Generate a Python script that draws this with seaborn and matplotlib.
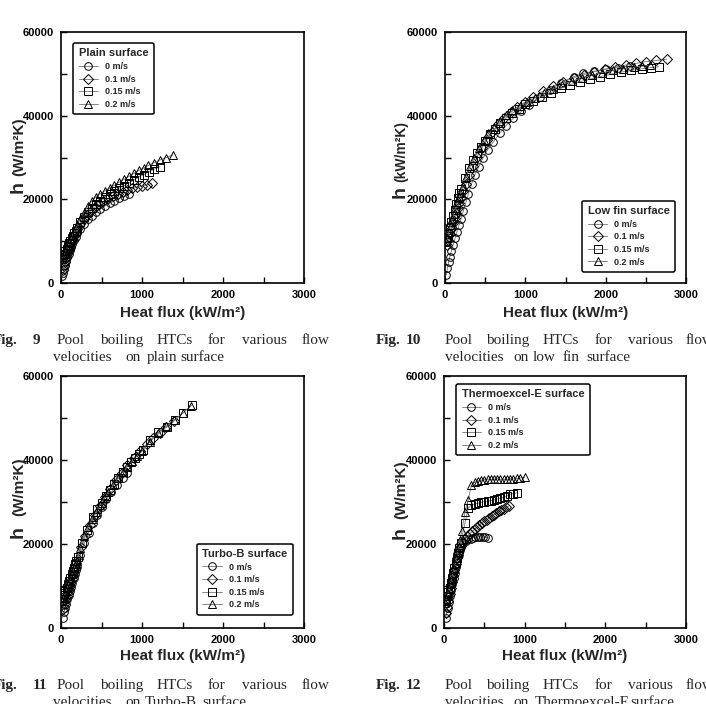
import numpy as np
import pandas as pd
import matplotlib
matplotlib.use("Agg")
import matplotlib.pyplot as plt
import seaborn as sns
from matplotlib.lines import Line2D

# ---------------- data ----------------
velocities = ["0 m/s", "0.1 m/s", "0.15 m/s", "0.2 m/s"]

# Plain surface
plain_q0 = [15, 25, 35, 50, 65, 80, 95, 110, 125, 140, 160, 180, 200, 240, 280, 330, 380, 430, 480, 540, 600, 660, 720, 780, 840]
plain_h0 = [1600, 2400, 3300, 4300, 5300, 6200, 7000, 7800, 8600, 9400, 10300, 11100, 11900, 13000, 14100, 15200, 16100, 16900, 17600, 18400, 19100, 19700, 20300, 20800, 21300]
plain_q1 = [20, 35, 50, 65, 80, 95, 110, 125, 140, 160, 180, 200, 240, 280, 320, 370, 420, 470, 520, 580, 640, 700, 760, 820, 880, 940, 1000, 1060, 1120]
plain_h1 = [3000, 4000, 5000, 6000, 7000, 7900, 8700, 9500, 10300, 11200, 12000, 12800, 14000, 15200, 16200, 17200, 18100, 18800, 19500, 20200, 20800, 21300, 21800, 22200, 22600, 22900, 23200, 23500, 23800]
plain_q2 = [10, 25, 40, 55, 70, 85, 100, 115, 130, 145, 160, 180, 200, 240, 280, 330, 380, 430, 480, 540, 600, 660, 720, 780, 840, 900, 960, 1020, 1090, 1150, 1220]
plain_h2 = [6300, 6600, 7000, 7600, 8200, 8900, 9500, 10100, 10700, 11300, 11900, 12500, 13100, 14500, 15700, 16900, 17900, 18800, 19600, 20500, 21300, 22000, 22700, 23300, 23900, 24600, 25300, 25900, 26600, 27200, 27800]
plain_q3 = [10, 25, 40, 55, 70, 85, 100, 120, 140, 160, 180, 200, 240, 280, 330, 380, 430, 480, 540, 600, 660, 720, 780, 840, 900, 960, 1020, 1080, 1150, 1220, 1300, 1380]
plain_h3 = [5800, 6300, 6900, 7600, 8300, 9000, 9700, 10600, 11500, 12300, 13100, 13900, 15400, 16800, 18300, 19600, 20600, 21300, 22000, 22700, 23400, 24100, 24800, 25500, 26200, 26900, 27500, 28100, 28800, 29400, 30000, 30600]

# Low fin surface
lowfin_q0 = [15, 30, 45, 60, 80, 100, 125, 150, 175, 200, 230, 260, 290, 330, 370, 420, 470, 530, 600, 680, 760, 850, 950, 1050, 1180, 1310, 1450, 1600, 1720, 1850, 2000, 2150, 2300]
lowfin_h0 = [1900, 3500, 5000, 6300, 7700, 9000, 10700, 12300, 13800, 15300, 17300, 19300, 21300, 23600, 25800, 27800, 29800, 31800, 33700, 35800, 37600, 39400, 41000, 42600, 44500, 46200, 47900, 49300, 50100, 50600, 51100, 51500, 51900]
lowfin_q1 = [20, 40, 60, 80, 100, 120, 140, 160, 180, 200, 230, 260, 300, 350, 400, 460, 520, 590, 660, 740, 820, 900, 1000, 1100, 1220, 1340, 1470, 1600, 1730, 1860, 1990, 2120, 2250, 2380, 2500, 2630, 2760]
lowfin_h1 = [9000, 10300, 11700, 13000, 14300, 15600, 16800, 18000, 19200, 20300, 22000, 23600, 25700, 28000, 30200, 32300, 34200, 36200, 37900, 39500, 40800, 42000, 43300, 44500, 45800, 47000, 48100, 49000, 49800, 50500, 51100, 51600, 52100, 52500, 52900, 53200, 53500]
lowfin_q2 = [10, 25, 40, 60, 80, 100, 120, 140, 160, 180, 200, 250, 300, 350, 400, 450, 500, 560, 620, 690, 760, 840, 920, 1000, 1100, 1210, 1320, 1440, 1560, 1680, 1800, 1930, 2060, 2190, 2320, 2450, 2560, 2660]
lowfin_h2 = [10000, 10800, 11800, 13200, 14700, 16100, 17500, 18900, 20200, 21400, 22500, 25200, 27500, 29300, 31000, 32600, 34000, 35500, 36800, 38200, 39400, 40600, 41700, 42700, 43500, 44500, 45500, 46500, 47400, 48100, 48700, 49300, 49900, 50400, 50800, 51200, 51500, 51700]
lowfin_q3 = [15, 30, 50, 70, 90, 110, 130, 150, 170, 190, 220, 260, 310, 360, 420, 480, 540, 610, 680, 760, 840, 930, 1020, 1120, 1230, 1340, 1460, 1580, 1700, 1830, 1960, 2090, 2220, 2350, 2450, 2550]
lowfin_h3 = [9800, 10800, 12300, 13800, 15200, 16600, 18000, 19300, 20500, 21600, 23300, 25400, 27900, 30000, 32200, 34100, 35800, 37400, 38800, 40100, 41300, 42400, 43300, 44200, 45300, 46400, 47400, 48300, 49000, 49700, 50300, 50800, 51200, 51600, 51800, 52000]

# Turbo-B surface
turbo_q0 = [20, 35, 50, 65, 80, 95, 110, 125, 140, 155, 170, 185, 200, 240, 290, 340, 390, 440, 500, 560, 620, 690, 760, 820]
turbo_h0 = [2500, 3700, 4800, 5800, 6800, 7800, 8800, 9800, 10800, 11800, 12800, 13700, 14600, 17500, 20300, 22700, 24900, 26800, 28800, 30600, 32300, 34100, 35800, 37000]
turbo_q1 = [25, 40, 55, 70, 85, 100, 115, 130, 145, 160, 175, 190, 205, 250, 300, 360, 420, 480, 540, 610, 680, 750, 820, 900, 980, 1060, 1140, 1220, 1300, 1390]
turbo_h1 = [4500, 5600, 6700, 7700, 8700, 9700, 10700, 11700, 12700, 13700, 14600, 15500, 16400, 19200, 21800, 24500, 27000, 29100, 31100, 33200, 35200, 37000, 38700, 40500, 42200, 43800, 45200, 46500, 47800, 49200]
turbo_q2 = [10, 25, 40, 55, 70, 85, 100, 115, 130, 145, 160, 175, 190, 210, 260, 320, 395, 450, 505, 555, 605, 655, 705, 760, 815, 865, 915, 965, 1015, 1100, 1200, 1310, 1410, 1505, 1615]
turbo_h2 = [7500, 7800, 8300, 8900, 9600, 10400, 11200, 12000, 12800, 13600, 14400, 15200, 16000, 16900, 20200, 23300, 26500, 28300, 29800, 31400, 32900, 34300, 35700, 37100, 38400, 39500, 40500, 41500, 42400, 44700, 46700, 47900, 49500, 51200, 53100]
turbo_q3 = [15, 30, 45, 60, 75, 90, 105, 120, 135, 150, 165, 180, 195, 230, 280, 330, 380, 430, 480, 530, 580, 640, 700, 760, 820, 880, 940, 1000, 1100, 1200, 1300, 1400, 1500, 1600]
turbo_h3 = [6500, 7200, 8000, 8800, 9600, 10400, 11200, 12000, 12800, 13600, 14400, 15200, 16000, 19000, 21800, 24000, 25900, 27700, 29300, 30900, 32300, 34000, 35600, 37100, 38500, 39800, 41000, 42100, 44400, 46500, 48100, 49600, 51100, 52900]

# Thermoexcel-E surface
thermo_q0 = [20, 30, 45, 60, 75, 90, 105, 120, 135, 150, 165, 180, 195, 210, 240, 270, 300, 330, 360, 390, 420, 450, 480, 510, 550]
thermo_h0 = [2500, 3500, 4800, 6200, 7600, 9000, 10400, 11800, 13200, 14600, 16000, 17300, 18500, 19400, 20300, 20800, 21100, 21300, 21500, 21600, 21700, 21700, 21700, 21600, 21500]
thermo_q1 = [25, 40, 55, 70, 85, 100, 115, 130, 145, 160, 175, 190, 205, 230, 260, 290, 320, 350, 380, 410, 440, 470, 500, 530, 560, 590, 620, 650, 680, 710, 740, 770, 800]
thermo_h1 = [3500, 5000, 6500, 8000, 9500, 11000, 12500, 13900, 15300, 16600, 17800, 18800, 19500, 20400, 21200, 21900, 22500, 23000, 23500, 24000, 24500, 25000, 25400, 25800, 26200, 26600, 27000, 27400, 27800, 28100, 28400, 28700, 29000]
thermo_q2 = [10, 25, 40, 55, 70, 85, 100, 115, 130, 145, 160, 175, 190, 205, 260, 300, 340, 380, 420, 460, 500, 540, 580, 620, 660, 700, 740, 780, 820, 860, 900]
thermo_h2 = [6500, 6900, 7600, 8500, 9500, 10600, 11800, 13000, 14200, 15400, 16600, 17800, 19000, 20300, 25000, 28500, 29300, 29500, 29700, 29900, 30100, 30200, 30300, 30500, 30700, 30900, 31200, 31500, 31800, 32000, 32200]
thermo_q3 = [15, 30, 45, 60, 75, 90, 105, 120, 135, 150, 165, 180, 195, 220, 260, 300, 340, 380, 420, 460, 500, 540, 580, 620, 660, 700, 740, 780, 820, 860, 900, 940, 1000]
thermo_h3 = [6000, 7000, 8100, 9200, 10400, 11600, 12800, 14000, 15300, 16600, 18000, 19400, 20900, 23000, 27600, 30500, 34000, 34700, 35000, 35200, 35300, 35400, 35400, 35400, 35500, 35400, 35400, 35400, 35500, 35500, 35600, 35700, 35900]

x_ticks = [0, 1000, 2000, 3000]
y_ticks = [0, 20000, 40000, 60000]

# ---------------- style ----------------
sns.set_style("ticks")
plt.rcParams["font.family"] = ["Liberation Sans", "DejaVu Sans"]

W, H, DPI = 706, 704, 100
fig = plt.figure(figsize=(W / DPI, H / DPI), dpi=DPI)

markers = {"0 m/s": "o", "0.1 m/s": "D", "0.15 m/s": "s", "0.2 m/s": "^"}
LINE_C = "0.45"


def add_ax(l, t, r, b):
    return fig.add_axes([l / W, 1 - b / H, (r - l) / W, (b - t) / H])


def fig_text(x, y, s, **kw):
    return fig.text(x / W, 1 - y / H, s, **kw)


def make_df(qs, hs):
    frames = []
    for v, q, h in zip(velocities, qs, hs):
        frames.append(pd.DataFrame({"q": q, "h": h, "v": v}))
    return pd.concat(frames, ignore_index=True)


panels = [
    dict(rect=(61, 32, 304, 283),
         df=make_df([plain_q0, plain_q1, plain_q2, plain_q3], [plain_h0, plain_h1, plain_h2, plain_h3]),
         title="Plain surface", loc="upper left", anchor=(0.05, 0.956),
         yl_x=23, h_y=187, unit="(W/m²K)", unit_y=147, unit_fs=11,
         xl_y=317,
         cap_num="9", cap_y=344,
         cap2=[("velocities", 53), ("on", 125), ("plain", 147), ("surface", 180)]),
    dict(rect=(445, 32, 686, 283),
         df=make_df([lowfin_q0, lowfin_q1, lowfin_q2, lowfin_q3], [lowfin_h0, lowfin_h1, lowfin_h2, lowfin_h3]),
         title="Low fin surface", loc="lower right", anchor=(0.954, 0.044),
         yl_x=405, h_y=192, unit="(kW/m²K)", unit_y=151, unit_fs=10,
         xl_y=317,
         cap_num="10", cap_y=344,
         cap2=[("velocities", 445), ("on", 513), ("low", 533), ("fin", 563), ("surface", 586)]),
    dict(rect=(61, 376, 304, 628),
         df=make_df([turbo_q0, turbo_q1, turbo_q2, turbo_q3], [turbo_h0, turbo_h1, turbo_h2, turbo_h3]),
         title="Turbo-B surface", loc="lower right", anchor=(0.955, 0.052),
         yl_x=23, h_y=532, unit="(W/m²K)", unit_y=487, unit_fs=11,
         xl_y=660,
         cap_num="11", cap_y=689,
         cap2=[("velocities", 53), ("on", 125), ("Turbo-B", 145), ("surface", 202)]),
    dict(rect=(444, 376, 686, 628),
         df=make_df([thermo_q0, thermo_q1, thermo_q2, thermo_q3], [thermo_h0, thermo_h1, thermo_h2, thermo_h3]),
         title="Thermoexcel-E surface", loc="upper left", anchor=(0.05, 0.968),
         yl_x=405, h_y=533, unit="(W/m²K)", unit_y=490, unit_fs=11,
         xl_y=660,
         cap_num="12", cap_y=689,
         cap2=[("velocities", 445), ("on", 513), ("Thermoexcel-E", 535), ("surface", 630)]),
]

cap_left = [("Pool", 57), ("boiling", 100), ("HTCs", 157), ("for", 208), ("various", 242), ("flow", 302)]
cap_right = [("Pool", 445), ("boiling", 486), ("HTCs", 543), ("for", 595), ("various", 628), ("flow", 686)]
SERIF = ["Liberation Serif", "DejaVu Serif"]
CAP_FS = 11

for p in panels:
    ax = add_ax(*p["rect"])
    sns.lineplot(data=p["df"], x="q", y="h", style="v", style_order=velocities,
                 markers=markers, dashes=False, estimator=None, sort=False,
                 color=LINE_C, lw=0.6, markersize=5.5, markerfacecolor="none",
                 markeredgecolor="black", markeredgewidth=0.7, legend=False, ax=ax)
    ax.set_xlim(0, 3000)
    ax.set_ylim(0, 60000)
    ax.set_xticks(x_ticks)
    ax.set_yticks(y_ticks)
    ax.set_xticks(np.arange(0, 3001, 500), minor=True)
    ax.set_yticks(np.arange(0, 60001, 10000), minor=True)
    ax.set_xticklabels([str(t) for t in x_ticks])
    ax.set_yticklabels([str(t) for t in y_ticks])
    ax.tick_params(which="both", direction="in", length=4, width=1, top=False, right=False,
                   labelsize=8, pad=5, colors="black")
    for lab in ax.get_xticklabels() + ax.get_yticklabels():
        lab.set_fontweight("bold")
    for s in ax.spines.values():
        s.set_visible(True)
        s.set_linewidth(1.2)
        s.set_color("black")
    ax.set_xlabel("")
    ax.set_ylabel("")

    # x label
    l, t, r, b = p["rect"]
    fig_text((l + r) / 2, p["xl_y"], "Heat flux (kW/m²)", ha="center", va="baseline",
             fontsize=11, weight="bold")
    # y label: big "h" + unit
    fig_text(p["yl_x"], p["h_y"], "h", rotation=90, rotation_mode="anchor",
             ha="center", va="baseline", fontsize=14, weight="bold")
    fig_text(p["yl_x"], p["unit_y"], p["unit"], rotation=90, rotation_mode="anchor",
             ha="center", va="baseline", fontsize=p["unit_fs"], weight="bold")

    # legend
    handles = [Line2D([], [], color=LINE_C, lw=0.6, marker=markers[v], markersize=5.5,
                      markerfacecolor="none", markeredgecolor="black", markeredgewidth=0.7)
               for v in velocities]
    leg = ax.legend(handles, velocities, title=p["title"], loc=p["loc"],
                    bbox_to_anchor=p["anchor"], frameon=True, fancybox=True,
                    edgecolor="black", framealpha=1,
                    prop={"weight": "bold", "size": 6.5},
                    title_fontproperties={"weight": "bold", "size": 8},
                    alignment="left", handlelength=2.2, handletextpad=0.7,
                    labelspacing=0.4, borderpad=0.6, borderaxespad=0)
    leg.get_frame().set_linewidth(1.1)

    # caption
    if l < 300:
        fig_text(18, p["cap_y"], "Fig.", ha="right", va="baseline", family=SERIF,
                 fontsize=CAP_FS, weight="bold")
        fig_text(33, p["cap_y"], p["cap_num"], ha="left", va="baseline", family=SERIF,
                 fontsize=CAP_FS, weight="bold")
        words = cap_left
    else:
        fig_text(376, p["cap_y"], "Fig.", ha="left", va="baseline", family=SERIF,
                 fontsize=CAP_FS, weight="bold")
        fig_text(406, p["cap_y"], p["cap_num"], ha="left", va="baseline", family=SERIF,
                 fontsize=CAP_FS, weight="bold")
        words = cap_right
    for w, x in words:
        fig_text(x, p["cap_y"], w, ha="left", va="baseline", family=SERIF, fontsize=CAP_FS)
    for w, x in p["cap2"]:
        fig_text(x, p["cap_y"] + 17, w, ha="left", va="baseline", family=SERIF, fontsize=CAP_FS)

fig.savefig("out.png", dpi=DPI)
